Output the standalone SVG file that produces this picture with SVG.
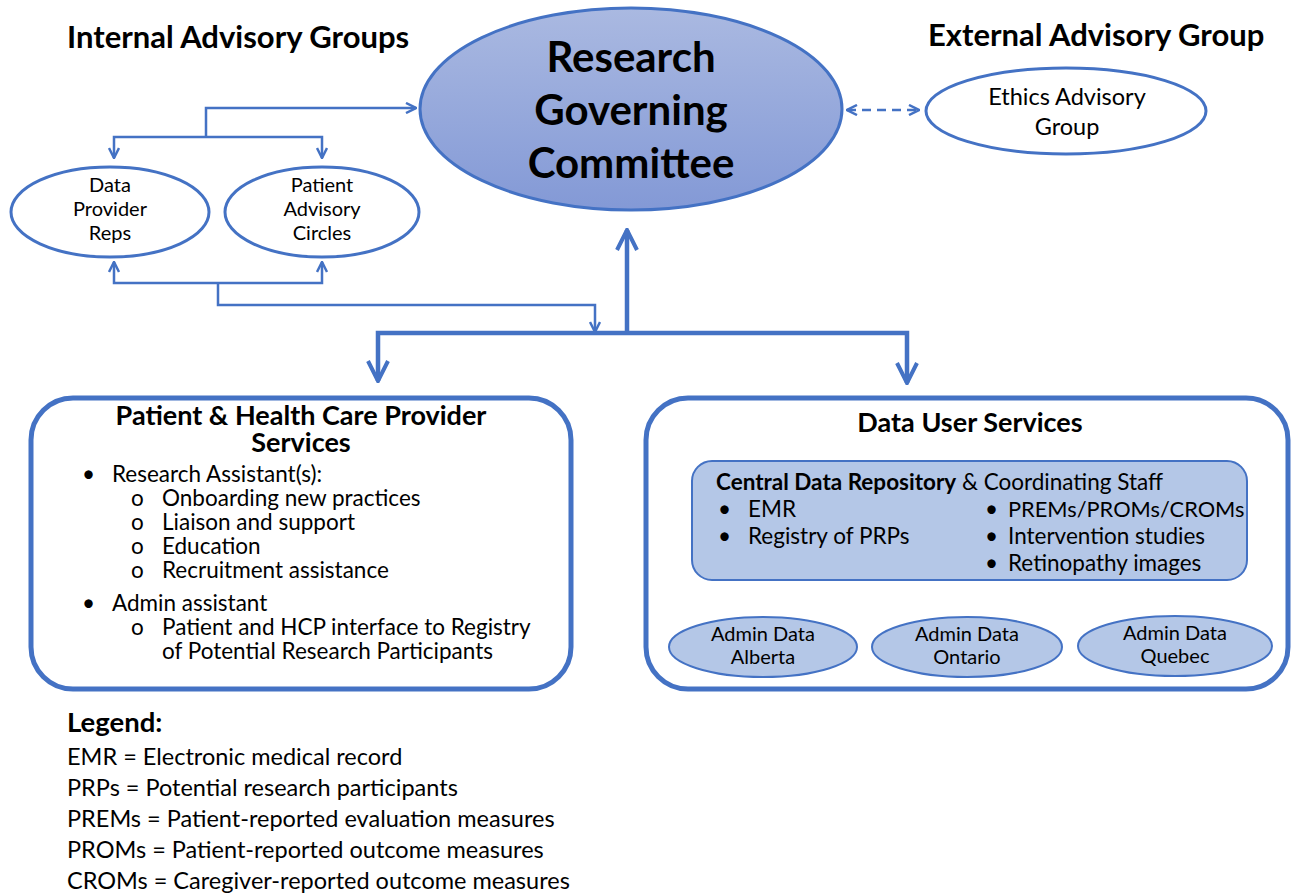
<svg xmlns="http://www.w3.org/2000/svg" width="1293" height="894" viewBox="0 0 1293 894">
<defs>
<linearGradient id="g1" x1="0" y1="0" x2="0" y2="1">
<stop offset="0" stop-color="#aab9e1"/>
<stop offset="1" stop-color="#8399d6"/>
</linearGradient>
<marker id="ah" viewBox="0 0 12 12" refX="11" refY="6" markerWidth="12" markerHeight="12" markerUnits="userSpaceOnUse" orient="auto-start-reverse">
<path d="M1,1 L11,6 L1,11" fill="none" stroke="#4472c4" stroke-width="2.5"/>
</marker>
<marker id="ahb" viewBox="0 0 12 12" refX="11" refY="6" markerWidth="24" markerHeight="24" markerUnits="userSpaceOnUse" orient="auto-start-reverse">
<path d="M1,1 L11,6 L1,11" fill="none" stroke="#4472c4" stroke-width="2"/>
</marker>
<marker id="ahs" viewBox="0 0 10 10" refX="9" refY="5" markerWidth="9" markerHeight="9" markerUnits="userSpaceOnUse" orient="auto-start-reverse">
<path d="M0,0 L10,5 L0,10 z" fill="#4472c4"/>
</marker>
</defs>
<style>
text{font-family:Lato,"Open Sans","Liberation Sans",sans-serif;fill:#000}
.h{font-weight:bold;font-size:31px}
.b{font-weight:bold}
.c{text-anchor:middle}
.ln{fill:none;stroke:#4472c4;stroke-width:2.5}
.lt{fill:none;stroke:#4472c4;stroke-width:4.5}
.el{fill:#fff;stroke:#4472c4;stroke-width:3}
.sm{fill:#b4c7e7;stroke:#4472c4;stroke-width:2}
.t22{font-size:22.5px}
.t23{font-size:23.5px}
.t20{font-size:20px}
</style>

<g id="labels">
<text x="67" y="48" class="h">Internal Advisory Groups</text>
<text x="928" y="46" class="h">External Advisory Group</text>
</g>

<g id="connectors">
<path class="ln" d="M206,137 V108 H416" marker-end="url(#ah)"/>
<path class="ln" d="M114,158 V137 H322 V158" marker-start="url(#ah)" marker-end="url(#ah)"/>
<path class="ln" d="M114,262 V283 H322 V262" marker-start="url(#ah)" marker-end="url(#ah)"/>
<path class="ln" d="M218,283 V305 H595 V332" marker-end="url(#ah)"/>
<path class="lt" d="M627,333 V230" marker-end="url(#ahb)"/>
<path class="lt" d="M378,381 V333 H907 V383" marker-start="url(#ahb)" marker-end="url(#ahb)"/>
<path class="ln" d="M847,110 H919" stroke-dasharray="9,6" marker-start="url(#ah)" marker-end="url(#ah)"/>
<path d="M763,585 V615" stroke="#4472c4" stroke-width="2" marker-start="url(#ahs)" marker-end="url(#ahs)"/>
<path d="M967,584 V616" stroke="#4472c4" stroke-width="2" marker-start="url(#ahs)" marker-end="url(#ahs)"/>
<path d="M1174,584 V616" stroke="#4472c4" stroke-width="2" marker-start="url(#ahs)" marker-end="url(#ahs)"/>
</g>

<g id="rgc">
<ellipse cx="631" cy="109" rx="211" ry="101" fill="url(#g1)" stroke="#4472c4" stroke-width="3"/>
<text x="631" y="72" class="c b" font-size="42">Research</text>
<text x="631" y="125" class="c b" font-size="42">Governing</text>
<text x="631" y="178" class="c b" font-size="42">Committee</text>
</g>

<g id="ethics">
<ellipse cx="1066" cy="111" rx="140" ry="43" class="el"/>
<text x="1067" y="105" class="c t23">Ethics Advisory</text>
<text x="1067" y="135" class="c t23">Group</text>
</g>

<g id="dpr">
<ellipse cx="110" cy="212" rx="99" ry="45" class="el"/>
<text x="110" y="192" class="c t20">Data</text>
<text x="110" y="216" class="c t20">Provider</text>
<text x="110" y="240" class="c t20">Reps</text>
</g>

<g id="pac">
<ellipse cx="322" cy="212" rx="97" ry="45" class="el"/>
<text x="322" y="192" class="c t20">Patient</text>
<text x="322" y="216" class="c t20">Advisory</text>
<text x="322" y="240" class="c t20">Circles</text>
</g>

<g id="phcp">
<rect x="31" y="398" width="540" height="291" rx="42" fill="#fff" stroke="#4472c4" stroke-width="5"/>
<text x="301" y="425" class="c b" font-size="27">Patient &amp; Health Care Provider</text>
<text x="301" y="452" class="c b" font-size="27">Services</text>
<text x="82" y="482" class="t22">•</text>
<text x="112" y="482" class="t22">Research Assistant(s):</text>
<text x="131" y="506" class="t22">o</text>
<text x="162" y="506" class="t22">Onboarding new practices</text>
<text x="131" y="530" class="t22">o</text>
<text x="162" y="530" class="t22">Liaison and support</text>
<text x="131" y="554" class="t22">o</text>
<text x="162" y="554" class="t22">Education</text>
<text x="131" y="578" class="t22">o</text>
<text x="162" y="578" class="t22">Recruitment assistance</text>
<text x="82" y="611" class="t22">•</text>
<text x="112" y="611" class="t22">Admin assistant</text>
<text x="131" y="635" class="t22">o</text>
<text x="162" y="635" class="t22">Patient and HCP interface to Registry</text>
<text x="162" y="659" class="t22">of Potential Research Participants</text>
</g>

<g id="dus">
<rect x="646" y="398" width="642" height="291" rx="42" fill="#fff" stroke="#4472c4" stroke-width="5"/>
<text x="970" y="432" class="c b" font-size="27">Data User Services</text>
</g>

<g id="cdr">
<rect x="692" y="461" width="555" height="119" rx="20" class="sm" stroke-width="3"/>
<text x="716" y="490" font-size="22.5"><tspan font-weight="bold">Central Data Repository</tspan> &amp; Coordinating Staff</text>
<text x="718" y="517" class="t22">•</text>
<text x="748" y="517" class="t22">EMR</text>
<text x="718" y="544" class="t22">•</text>
<text x="748" y="544" class="t22">Registry of PRPs</text>
<text x="985" y="517" class="t22">•</text>
<text x="1008" y="517" font-size="21.8">PREMs/PROMs/CROMs</text>
<text x="985" y="544" class="t22">•</text>
<text x="1008" y="544" class="t22">Intervention studies</text>
<text x="985" y="571" class="t22">•</text>
<text x="1008" y="571" class="t22">Retinopathy images</text>
</g>

<g id="alberta">
<ellipse cx="763" cy="647" rx="94" ry="30" class="sm"/>
<text x="763" y="641" class="c t20">Admin Data</text>
<text x="763" y="664" class="c t20">Alberta</text>
</g>
<g id="ontario">
<ellipse cx="967" cy="647" rx="95" ry="30" class="sm"/>
<text x="967" y="641" class="c t20">Admin Data</text>
<text x="967" y="664" class="c t20">Ontario</text>
</g>
<g id="quebec">
<ellipse cx="1175" cy="646" rx="97" ry="30" class="sm"/>
<text x="1175" y="640" class="c t20">Admin Data</text>
<text x="1175" y="663" class="c t20">Quebec</text>
</g>

<g id="legend">
<text x="67" y="732" class="b" font-size="27.5">Legend:</text>
<text x="67" y="765" class="t23">EMR = Electronic medical record</text>
<text x="67" y="796" class="t23">PRPs = Potential research participants</text>
<text x="67" y="827" class="t23">PREMs = Patient-reported evaluation measures</text>
<text x="67" y="858" class="t23">PROMs = Patient-reported outcome measures</text>
<text x="67" y="889" class="t23">CROMs = Caregiver-reported outcome measures</text>
</g>
</svg>
